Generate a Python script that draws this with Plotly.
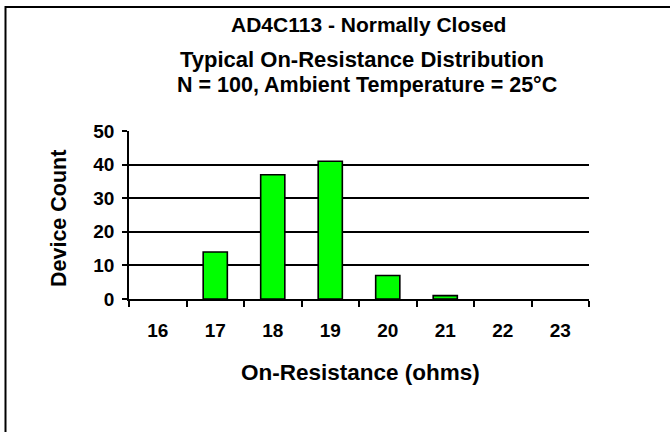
import plotly.graph_objects as go

categories = ["16", "17", "18", "19", "20", "21", "22", "23"]
device_count = [0, 14, 37, 41, 7, 1, 0, 0]
y_ticks = [0, 10, 20, 30, 40, 50]

title_1 = "AD4C113 - Normally Closed"
title_2 = "Typical On-Resistance Distribution"
title_3 = "N = 100, Ambient Temperature = 25°C"
x_title = "On-Resistance (ohms)"
y_title = "Device Count"

FONT = "Liberation Sans, Arial, sans-serif"

W, H = 670, 432
L, R, T, B = 129, 589, 131, 299
pw, ph = R - L, B - T

def px(x):
    return (x - L) / pw

def py(y):
    return (B - y) / ph

fig = go.Figure()
fig.add_trace(go.Bar(
    x=categories, y=device_count,
    marker=dict(color="#00FF00",
                line=dict(color="black", width=[0 if v == 0 else 1.6 for v in device_count])),
    width=0.42,
))

tick_font = dict(size=19, family=FONT, color="black", weight="bold")

fig.update_layout(
    width=W, height=H,
    margin=dict(l=L, r=W - R, t=T, b=H - B, pad=0),
    paper_bgcolor="white", plot_bgcolor="white",
    showlegend=False,
    font=dict(family=FONT, color="black"),
    xaxis=dict(
        type="category", categoryorder="array", categoryarray=categories,
        range=[-0.5, len(categories) - 0.5],
        showgrid=False, showline=True, linecolor="black", linewidth=1.6,
        ticks="outside", tickson="boundaries", ticklen=6, tickwidth=1.5, tickcolor="black",
        tickfont=tick_font,
        ticklabelstandoff=13,
        zeroline=False,
    ),
    yaxis=dict(
        range=[0, 50], tickvals=y_ticks,
        showgrid=True, gridcolor="black", gridwidth=1.6,
        showline=True, linecolor="black", linewidth=1.6,
        ticks="outside", ticklen=5, tickwidth=1.5, tickcolor="black",
        tickfont=tick_font,
        ticklabelstandoff=4,
        zeroline=False,
    ),
)

def bold(s):
    return "<b>" + s + "</b>"

ann = [
    (title_1, 368, 24, 21, 0),
    (title_2, 362, 60, 22, 0),
    (title_3, 367, 85, 21.5, 0),
    (x_title, 360, 372, 22.5, 0),
    (y_title, 59, 219, 21.5, -90),
]
for text, x, y, size, ang in ann:
    fig.add_annotation(
        text=bold(text), x=px(x), y=py(y), xref="paper", yref="paper",
        xanchor="center", yanchor="middle", showarrow=False, textangle=ang,
        font=dict(size=size, family=FONT, color="black"),
    )

fig.add_shape(
    type="rect", xref="paper", yref="paper",
    x0=px(5.5), x1=px(690), y0=py(450), y1=py(7),
    line=dict(color="black", width=2), fillcolor="rgba(0,0,0,0)", layer="below",
)

fig.write_html(
    "out.html",
    config={"displayModeBar": False},
    post_script="document.body.style.margin='0';document.body.style.overflow='hidden';",
)
